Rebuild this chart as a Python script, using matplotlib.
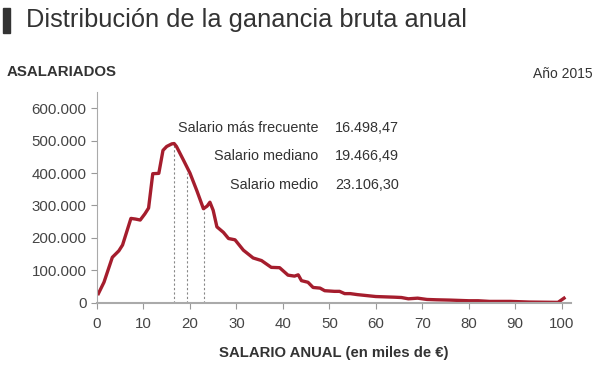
import matplotlib.pyplot as plt
from matplotlib.ticker import FuncFormatter
from matplotlib.patches import Rectangle

plt.rcParams["font.family"] = ["Liberation Sans", "DejaVu Sans"]

# salario anual (miles de euros) y número de asalariados
salario = [0.3, 1.5, 3.3, 4.7, 5.5, 7.3, 8.3, 9.3, 10.3, 11.1, 12.0, 13.3,
           14.2, 15.0, 16.1, 16.6, 17.1, 18.6, 20.0, 21.5, 22.9, 23.7, 24.3,
           25.0, 25.8, 27.2, 28.3, 29.7, 31.5, 33.6, 35.4, 37.5, 39.3, 41.1,
           42.5, 43.3, 44.0, 45.4, 46.5, 48.0, 49.0, 51.1, 52.2, 53.3, 54.5,
           56.0, 58.0, 60.0, 62.0, 64.0, 65.5, 67.0, 69.0, 71.0, 73.0, 76.0,
           80.0, 82.0, 84.5, 87.0, 89.0, 91.0, 93.0, 96.0, 99.2, 100.5]
asalariados = [28, 63, 140, 160, 178, 260, 258, 255, 274, 292, 398, 399,
               470, 482, 490, 491, 482, 440, 400, 345, 290, 298, 310,
               285, 234, 217, 198, 194, 162, 138, 130, 109, 108, 85,
               82, 86, 68, 63, 47, 45, 37, 35, 35, 28, 28,
               25, 22, 19, 18, 17, 16, 12, 14, 10, 9, 8,
               6, 6, 4, 4, 4, 3, 2, 1.5, 1, 14]
asalariados = [v * 1000 for v in asalariados]

etiquetas = ["Salario más frecuente", "Salario mediano", "Salario medio"]
valores = ["16.498,47", "19.466,49", "23.106,30"]
marcas = [16.49847, 19.46649, 23.10630]
altura_marcas = [491000, 400000, 292000]

RED = "#a51d2d"
TXT = "#333333"


def miles(v, pos):
    return f"{int(v):,}".replace(",", ".")


def main():
    fig = plt.figure(figsize=(6, 3.7), dpi=100)
    ax = fig.add_axes([97 / 600, 1 - 302.7 / 370, 474 / 600, 210.7 / 370])

    for x, h in zip(marcas, altura_marcas):
        ax.plot([x, x], [0, h], color="#888888", lw=0.8, ls=(0, (2, 2)))
    ax.plot(salario, asalariados, color=RED, lw=2.4, solid_joinstyle="round")

    ax.set_xlim(0, 102)
    ax.set_ylim(0, 650000)
    ax.set_xticks(range(0, 101, 10))
    ax.set_yticks(range(0, 600001, 100000))
    ax.yaxis.set_major_formatter(FuncFormatter(miles))
    ax.tick_params(axis="both", labelsize=10.8, labelcolor="#444444",
                   color="#999999", length=4, width=0.8)
    ax.tick_params(axis="x", pad=6)
    for s in ["top", "right"]:
        ax.spines[s].set_visible(False)
    ax.spines["left"].set_color("#aaaaaa")
    ax.spines["left"].set_linewidth(0.8)
    ax.spines["bottom"].set_color("#aaaaaa")
    ax.spines["bottom"].set_linewidth(1.5)

    ax.set_xlabel("SALARIO ANUAL (en miles de €)", fontsize=10.7,
                  fontweight="bold", color=TXT, labelpad=11)

    for i, (lab, val) in enumerate(zip(etiquetas, valores)):
        y = 1 - (128 + 28.5 * i) / 370
        fig.text(318 / 600, y, lab, ha="right", va="center",
                 fontsize=10.4, color=TXT)
        fig.text(335 / 600, y, val, ha="left", va="center",
                 fontsize=10.4, color=TXT)

    fig.patches.append(Rectangle((3 / 600, 1 - 33 / 370), 7 / 600, 25 / 370,
                                 transform=fig.transFigure, color=TXT))
    fig.text(26 / 600, 1 - 20 / 370, "Distribución de la ganancia bruta anual",
             ha="left", va="center", fontsize=18.3, color=TXT)
    fig.text(7 / 600, 1 - 72 / 370, "ASALARIADOS", ha="left", va="center",
             fontsize=10.8, fontweight="bold", color=TXT)
    fig.text(593 / 600, 1 - 74 / 370, "Año 2015", ha="right", va="center",
             fontsize=10, color=TXT)

    fig.savefig("out.png", dpi=100, facecolor="white")


if __name__ == "__main__":
    main()
